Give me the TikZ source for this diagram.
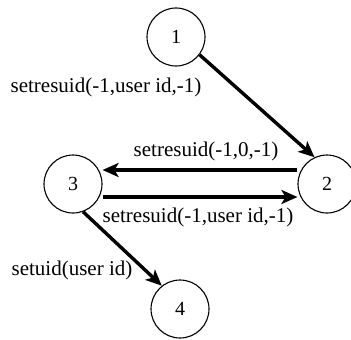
\documentclass[tikz,border=0pt]{standalone}
\usepackage{fontspec}
\setmainfont{Liberation Serif}
\usetikzlibrary{arrows.meta}
\begin{document}
\begin{tikzpicture}[x=1pt,y=-1pt,
  state/.style={draw, circle, line width=1.1pt, minimum size=58pt, inner sep=0pt,
    font=\fontsize{20}{24}\selectfont},
  arr/.style={line width=3.4pt, -{Stealth[length=16pt,width=14pt,inset=4pt]}},
  lbl/.style={inner sep=0pt, font=\fontsize{21}{25}\selectfont}]
  \useasboundingbox (0,0) rectangle (351,340);

  % states
  \node[state] (n1) at (176,37) {1};
  \node[state] (n2) at (327,184) {2};
  \node[state] (n3) at (73,184) {3};
  \node[state] (n4) at (180,309) {4};

  % transitions
  \draw[arr] (n1.-37) -- (n2.115);
  \draw[arr] ([yshift=14pt]n2.west) -- ([yshift=14pt]n3.east);
  \draw[arr] ([yshift=-13pt]n3.east) -- ([yshift=-13pt]n2.west);
  \draw[arr] (n3.-70) -- (n4.128);

  % transition labels
  \node[lbl] (l12) at (106,87) {setresuid(-1,user id,-1)};
  \node[lbl] (l23) at (206,151) {setresuid(-1,0,-1)};
  \node[lbl] (l32) at (198,217) {setresuid(-1,user id,-1)};
  \node[lbl] (l34) at (72,270) {setuid(user id)};
\end{tikzpicture}
\end{document}
